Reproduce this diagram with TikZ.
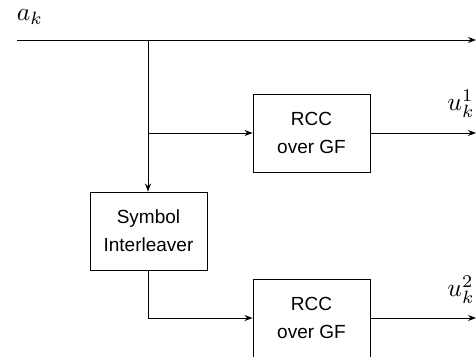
\documentclass[tikz,border=0pt]{standalone}
\usepackage{fontspec}
\setsansfont{Liberation Sans}
\usetikzlibrary{arrows.meta}
\begin{document}
\begin{tikzpicture}[x=1pt,y=-1pt,
  block/.style={draw, line width=0.9pt, minimum width=117pt, minimum height=78pt,
    align=center, font=\sffamily\fontsize{19}{28}\selectfont, inner sep=0pt},
  sig/.style={line width=0.9pt, -{Stealth[length=8pt,width=6pt]}},
  lbl/.style={scale=2.55, inner sep=0pt}]
  \useasboundingbox (0,0) rectangle (476,356);

  % input and branch points
  \coordinate (in) at (17,40);
  \coordinate (out0) at (476,40);
  \coordinate (split) at (148,40);
  \coordinate (tap) at (148,133);

  % processing blocks
  \node[block] (rcc1) at (311.5,133) {RCC\\over GF};
  \node[block] (intl) at (148.5,231) {Symbol\\Interleaver};
  \node[block] (rcc2) at (311.5,318) {RCC\\over GF};

  \coordinate (out1) at (476,133);
  \coordinate (out2) at (476,318);
  \coordinate (bend) at (148,318);

  % labels
  \node[lbl] (ak) at (30,17) {$a_k$};
  \node[lbl] (u1) at (461,104) {$u_k^1$};
  \node[lbl] (u2) at (461,290) {$u_k^2$};

  % signal paths
  \draw[sig] (in) -- (out0);
  \draw[sig] (split) -- (split |- intl.north);
  \draw[sig] (tap) -- (rcc1.west);
  \draw[sig] (rcc1.east) -- (out1);
  \draw[sig] (intl.south -| bend) -- (bend) -- (rcc2.west);
  \draw[sig] (rcc2.east) -- (out2);
\end{tikzpicture}
\end{document}
